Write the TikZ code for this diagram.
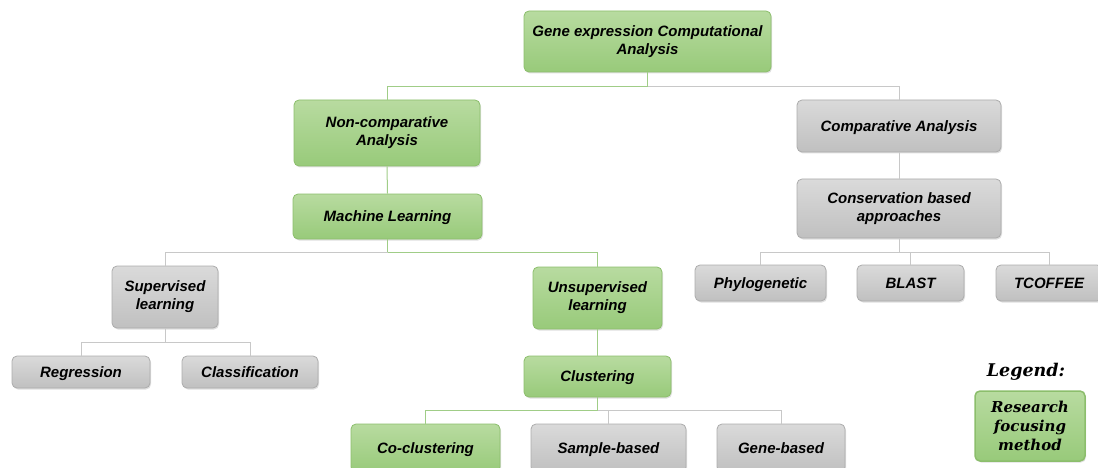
\documentclass[tikz,border=0pt]{standalone}
\usepackage{fontspec}
\setmainfont{Liberation Sans}
\newfontfamily\legendfont{DejaVu Serif}
\usetikzlibrary{shadows}
\definecolor{gfillT}{RGB}{184,219,160}
\definecolor{gfillB}{RGB}{152,202,122}
\definecolor{gdraw}{RGB}{140,190,108}
\definecolor{sfillT}{RGB}{218,218,218}
\definecolor{sfillB}{RGB}{192,192,192}
\definecolor{sdraw}{RGB}{172,172,172}
\definecolor{gline}{RGB}{160,205,135}
\definecolor{sline}{RGB}{200,200,200}
\tikzset{
  box/.style={rounded corners=5pt, line width=0.8pt, align=center,
    font=\fontsize{15}{18}\selectfont\bfseries\itshape, inner sep=2pt,
    drop shadow={shadow xshift=1pt, shadow yshift=-1.5pt, opacity=0.25}},
  gbox/.style={box, draw=gdraw, top color=gfillT, bottom color=gfillB},
  sbox/.style={box, draw=sdraw, top color=sfillT, bottom color=sfillB},
  oneline/.style={text height=12pt, text depth=1.2pt},
  gconn/.style={draw=gline, line width=1pt},
  sconn/.style={draw=sline, line width=1pt},
}
\begin{document}
\begin{tikzpicture}[x=1pt,y=-1pt]
\useasboundingbox (0,0) rectangle (1098,468);
\clip (0,0) rectangle (1098,468);
% nodes
\node[gbox, minimum width=247pt, minimum height=61pt] (top) at (647.5,41.5) {Gene expression Computational\\Analysis};
\node[gbox, minimum width=186pt, minimum height=66pt] (noncomp) at (387,133) {Non-comparative\\Analysis};
\node[sbox, oneline, minimum width=204pt, minimum height=52pt] (comp) at (899,126) {Comparative Analysis};
\node[gbox, oneline, minimum width=189pt, minimum height=45pt] (ml) at (387.5,216.5) {Machine Learning};
\node[sbox, minimum width=204pt, minimum height=59pt] (cons) at (899,208.5) {Conservation based\\approaches};
\node[sbox, minimum width=106pt, minimum height=62pt] (sup) at (165,297) {Supervised\\learning};
\node[gbox, minimum width=129pt, minimum height=62pt] (unsup) at (597.5,298) {Unsupervised\\learning};
\node[sbox, oneline, minimum width=138pt, minimum height=32pt] (reg) at (81,372) {Regression};
\node[sbox, oneline, minimum width=136pt, minimum height=32pt] (cls) at (250,372) {Classification};
\node[gbox, oneline, minimum width=147pt, minimum height=41pt] (clu) at (597.5,376.5) {Clustering};
\node[gbox, oneline, minimum width=149pt, minimum height=48pt] (cocl) at (425.5,448) {Co-clustering};
\node[sbox, oneline, minimum width=155pt, minimum height=48pt] (samp) at (608.5,448) {Sample-based};
\node[sbox, oneline, minimum width=128pt, minimum height=48pt] (gene) at (781,448) {Gene-based};
\node[sbox, oneline, minimum width=131pt, minimum height=36pt] (phy) at (760.5,283) {Phylogenetic};
\node[sbox, oneline, minimum width=107pt, minimum height=36pt] (blast) at (910.5,283) {BLAST};
\node[sbox, oneline, minimum width=106pt, minimum height=36pt] (tcof) at (1049,283) {TCOFFEE};
\node[font=\legendfont\fontsize{17.5}{20}\selectfont\bfseries\itshape] (legt) at (1026,372) {Legend:};
\node[gbox, font=\legendfont\fontsize{15}{19}\selectfont\bfseries\itshape, minimum width=110pt, minimum height=70pt, line width=1.5pt, inner sep=1pt] (leg) at (1030,426) {Research\\focusing\\method};
% connectors
\draw[gconn] (top.south) -- ++(0,14) coordinate (tj) -| (noncomp.north);
\draw[sconn] (tj) -| (comp.north);
\draw[gconn] (noncomp.south) -- (ml.north);
\draw[sconn] (comp.south) -- (cons.north);
\draw[gconn] (ml.south) -- ++(0,13) coordinate (mj) -| (unsup.north);
\draw[sconn] (mj) -| (sup.north);
\draw[sconn] (sup.south) -- ++(0,14) coordinate (sj) -| (reg.north);
\draw[sconn] (sj) -| (cls.north);
\draw[gconn] (unsup.south) -- (clu.north);
\draw[gconn] (clu.south) -- ++(0,13) coordinate (cj) -| (cocl.north);
\draw[sconn] (cj) -| (samp.north);
\draw[sconn] (cj) -| (gene.north);
\draw[sconn] (cons.south) -- ++(0,14) coordinate (kj) -| (phy.north);
\draw[sconn] (kj) -| (blast.north);
\draw[sconn] (kj) -| (tcof.north);
\end{tikzpicture}
\end{document}
